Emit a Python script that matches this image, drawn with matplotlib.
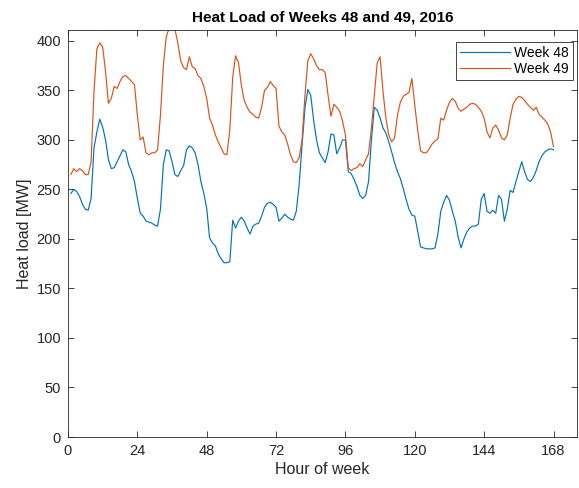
import matplotlib
matplotlib.use("Agg")
from matplotlib import pyplot as plt
import numpy as np

# hourly heat load, hours 1..168
hours = np.arange(1, 169)

week48 = [
    246, 250, 248, 243, 235, 230, 229, 241, 292, 308, 321, 313, 300, 280, 271, 272,
    278, 284, 290, 288, 275, 268, 258, 241, 226, 223, 218, 217, 216, 214, 213, 230,
    275, 290, 289, 278, 265, 263, 269, 274, 290, 294, 292, 287, 275, 258, 246, 231,
    201, 196, 193, 185, 180, 176, 176, 177, 219, 211, 218, 222, 218, 211, 205, 213,
    215, 216, 223, 232, 236, 237, 235, 232, 218, 221, 225, 222, 220, 219, 228, 255,
    295, 332, 351, 345, 320, 300, 287, 282, 277, 288, 306, 305, 286, 292, 300, 300,
    268, 266, 260, 253, 244, 241, 244, 258, 300, 333, 330, 322, 312, 307, 298, 288,
    277, 268, 261, 251, 240, 230, 224, 223, 208, 192, 191, 190, 190, 190, 191, 205,
    228, 237, 244, 239, 228, 218, 202, 191, 200, 207, 211, 213, 213, 215, 240, 246,
    228, 226, 229, 226, 244, 240, 218, 230, 249, 247, 258, 268, 278, 268, 260, 258,
    262, 269, 278, 284, 288, 290, 291, 290,
]

week49 = [
    265, 271, 268, 271, 269, 265, 265, 278, 349, 392, 398, 394, 369, 337, 342, 354,
    352, 359, 364, 365, 362, 359, 356, 325, 300, 303, 287, 285, 287, 287, 290, 325,
    375, 404, 413, 414, 412, 398, 380, 373, 371, 384, 374, 372, 365, 362, 354, 342,
    322, 315, 305, 298, 292, 286, 285, 310, 363, 385, 378, 355, 340, 333, 328, 326,
    323, 322, 333, 350, 353, 359, 355, 352, 314, 308, 305, 296, 285, 278, 277, 282,
    300, 345, 380, 387, 382, 375, 371, 371, 368, 345, 324, 336, 333, 329, 319, 305,
    272, 269, 271, 272, 276, 273, 280, 286, 312, 345, 378, 384, 349, 322, 305, 298,
    302, 325, 338, 344, 346, 348, 362, 335, 310, 289, 287, 287, 291, 296, 299, 301,
    322, 320, 330, 338, 342, 339, 332, 329, 331, 333, 336, 337, 336, 333, 329, 322,
    308, 302, 312, 315, 310, 302, 300, 305, 322, 336, 341, 344, 343, 340, 336, 333,
    330, 333, 326, 323, 320, 316, 308, 293,
]

xticks = [0, 24, 48, 72, 96, 120, 144, 168]
yticks = [0, 50, 100, 150, 200, 250, 300, 350, 400]

plt.rcParams['font.family'] = ['Liberation Sans', 'DejaVu Sans']

fig = plt.figure(figsize=(5.79, 4.88), dpi=100)
ax = fig.add_axes([0.1174, 0.1045, 0.8785, 0.834])

ax.plot(hours, week48, color='#0072BD', lw=0.85, label='Week 48')
ax.plot(hours, week49, color='#D95319', lw=0.85, label='Week 49')

ax.set_xlim(0, 176)
ax.set_ylim(0, 411)
ax.set_xticks(xticks)
ax.set_yticks(yticks)
ax.tick_params(direction='in', length=4, width=0.6, colors='#262626',
               labelsize=10.5, top=True, right=True, pad=5)
for s in ax.spines.values():
    s.set_color('#262626')
    s.set_linewidth(0.6)

ax.set_title('Heat Load of Weeks 48 and 49, 2016', fontsize=11, fontweight='bold', pad=6)
ax.set_xlabel('Hour of week', fontsize=11.5, color='#262626', labelpad=3)
ax.set_ylabel('Heat load [MW]', fontsize=11.5, color='#262626', labelpad=3)

leg = ax.legend(loc='upper right', bbox_to_anchor=(573 / 579, 1 - 41.7 / 488),
                bbox_transform=fig.transFigure, fontsize=10, fancybox=False,
                edgecolor='#262626', framealpha=1, handlelength=3.6,
                borderpad=0.3, labelspacing=0.15, handletextpad=0.3, borderaxespad=0)
leg.get_frame().set_linewidth(0.6)

fig.savefig('out.png', dpi=100)
